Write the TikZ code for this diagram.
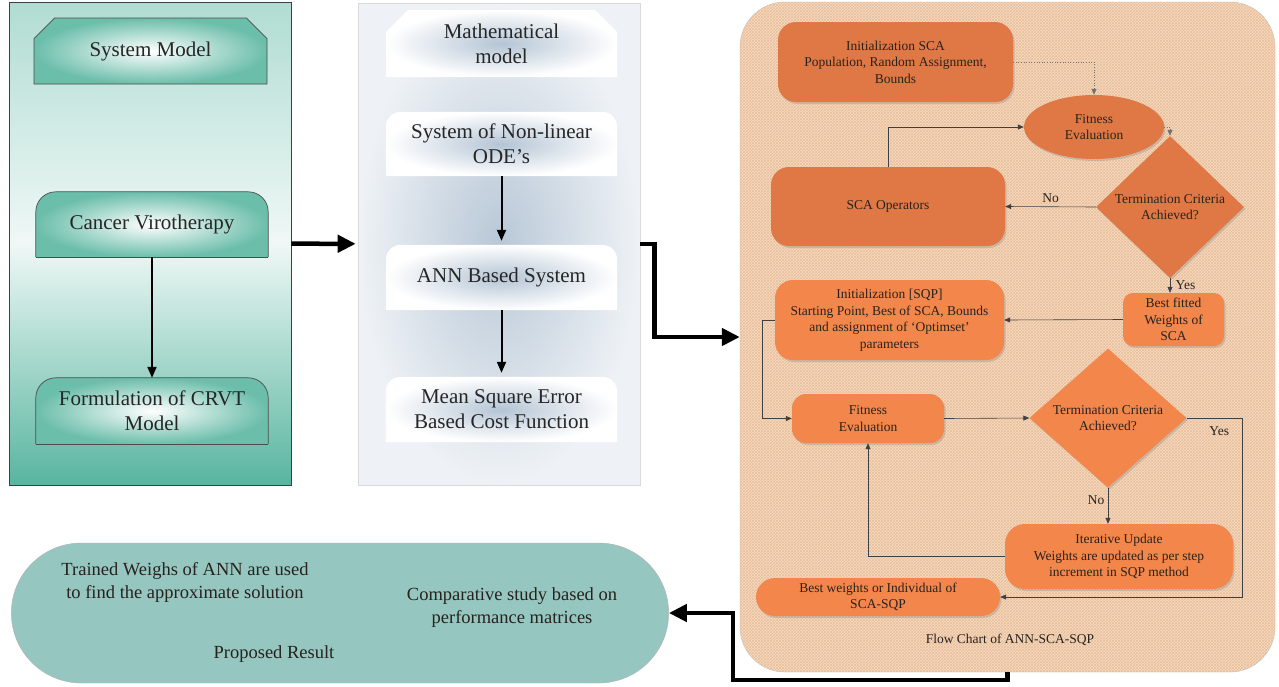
\documentclass[tikz,border=0pt]{standalone}
\usepackage{fontspec}
\setmainfont{Liberation Serif}
\usetikzlibrary{positioning,arrows.meta,shapes.geometric,shapes.misc,patterns,shadows}

\definecolor{tealbg}{RGB}{58,168,142}
\definecolor{slate}{RGB}{172,190,208}
\definecolor{peach}{RGB}{248,220,193}
\definecolor{hatch}{RGB}{232,190,156}
\definecolor{orgdark}{RGB}{224,120,69}
\definecolor{orglight}{RGB}{243,134,75}
\definecolor{resultbg}{RGB}{150,198,192}
\definecolor{ink}{RGB}{40,34,30}

\pgfdeclarelayer{panels}
\pgfdeclarelayer{boxes}
\pgfsetlayers{panels,boxes,main}

\begin{document}
\begin{tikzpicture}[x=1pt, y=-1pt,
    bigtext/.style={font=\fontsize{21}{25}\selectfont, text=black!85, align=center},
    flowtext/.style={font=\fontsize{13.5}{16.5}\selectfont, text=ink, align=center},
    restext/.style={font=\fontsize{18.5}{23}\selectfont, text=ink, align=center},
    tealpanel/.style={draw=black!75, line width=0.8pt, top color=tealbg!40, bottom color=tealbg!85, middle color=tealbg!8, minimum width=282pt, minimum height=483pt},
    slatepanel/.style={draw=black!15, line width=0.6pt, inner color=slate!85, outer color=slate!20, minimum width=282pt, minimum height=482pt},
    flowpanel/.style={rectangle, rounded corners=45pt, draw=black!25, fill=peach, postaction={pattern=crosshatch, pattern color=hatch}, minimum width=535pt, minimum height=670pt},
    respanel/.style={rounded rectangle, draw=black!30, fill=resultbg, minimum width=664pt, minimum height=140pt},
    boxsize/.style={inner sep=0pt, minimum width=232pt, minimum height=65pt},
    tealfill/.style={draw=black!70, line width=0.7pt, inner color=white, outer color=tealbg!75},
    slatefill/.style={inner color=slate!90, outer color=white},
    cutbox/.style={chamfered rectangle, chamfered rectangle corners={north west,north east}, chamfered rectangle xsep=11pt, chamfered rectangle ysep=11pt},
    softshadow/.style={drop shadow={opacity=0.3, shadow xshift=1.5pt, shadow yshift=-2pt}},
    flowbox/.style={flowtext, rectangle, rounded corners=18pt, fill=orgdark, inner sep=0pt, softshadow},
    lightbox/.style={flowbox, fill=orglight},
    fitoval/.style={flowtext, ellipse, fill=orgdark, inner sep=0pt, minimum width=140pt, minimum height=64pt, softshadow},
    decide/.style={flowtext, diamond, fill=orgdark, inner sep=0pt, softshadow},
    link/.style={draw=black!75, line width=0.6pt, -{Triangle[length=6pt,width=5pt]}},
    dotlink/.style={link, dotted, draw=black!55},
    thinarrow/.style={line width=2pt, -{Triangle[length=11pt,width=9pt]}},
    bigarrow/.style={line width=4.5pt, -{Triangle[length=18pt,width=17pt]}}]
\useasboundingbox (0,0) rectangle (1279,686);

% panels
\begin{pgfonlayer}{panels}
\node[tealpanel] (lpanel) at (150,243.5) {};
\node[slatepanel] (mpanel) at (499,244) {};
\node[flowpanel] (fpanel) at (1007.5,337) {};
\node[respanel] (pill) at (340,613) {};
\end{pgfonlayer}

% system model column
\node[bigtext, cutbox, tealfill, inner sep=0pt, minimum width=233pt, minimum height=66pt] (sysmodel) at (150.5,51) {System Model};
\node[bigtext, boxsize] (virother) at (152,224.5) {Cancer Virotherapy};
\node[bigtext, boxsize, minimum height=66pt] (crvt) at (152,411) {Formulation of CRVT\\Model};

% mathematical model column
\node[bigtext, cutbox, slatefill, inner sep=0pt, minimum width=231pt, minimum height=67pt] (mathmod) at (501.5,43.5) {Mathematical\\model};
\node[bigtext, boxsize, minimum width=231pt, minimum height=64pt] (odes) at (501.5,144) {System of Non-linear\\ODE’s};
\node[bigtext, boxsize, minimum width=231pt] (annsys) at (501.5,277.5) {ANN Based System};
\node[bigtext, boxsize, minimum width=231pt] (msecost) at (501.5,409.5) {Mean Square Error\\Based Cost Function};

\begin{pgfonlayer}{boxes}
\foreach \b in {virother,crvt} {
  \shade[tealfill, rounded corners=20pt] (\b.south west) -- (\b.north west) -- (\b.north east) -- (\b.south east);
  \draw[black!70, line width=0.7pt] (\b.south west) -- (\b.south east);
}
\foreach \b in {odes,annsys,msecost}
  \shade[slatefill, rounded corners=15pt] (\b.south west) -- (\b.north west) -- (\b.north east) -- (\b.south east);
\end{pgfonlayer}

\draw[thinarrow] (virother) -- (crvt);
\draw[thinarrow, shorten >=4pt] (odes) -- (annsys);
\draw[thinarrow, shorten >=4pt] (annsys) -- (msecost);

% flow chart
\node[flowbox, minimum width=235pt, minimum height=80pt] (initsca) at (895.5,62) {Initialization SCA\\Population, Random Assignment,\\Bounds};
\node[fitoval] (fit1) at (1094,127) {Fitness\\Evaluation};
\node[decide, minimum width=148pt, minimum height=142pt] (term1) at (1170,207) {Termination Criteria\\Achieved?};
\node[flowbox, minimum width=234pt, minimum height=79pt] (scaop) at (888,206.5) {SCA Operators};
\node[lightbox, rounded corners=10pt, minimum width=101pt, minimum height=53pt] (bestsca) at (1173.5,319.5) {Best fitted\\Weights of\\SCA};
\node[lightbox, minimum width=229pt, minimum height=80pt] (initsqp) at (889.5,320) {Initialization [SQP]\\Starting Point, Best of SCA, Bounds\\and assignment of ‘Optimset’\\parameters};
\node[lightbox, rounded corners=14pt, minimum width=152pt, minimum height=49pt] (fit2) at (868,418.5) {Fitness\\Evaluation};
\node[decide, fill=orglight, minimum width=157pt, minimum height=139pt] (term2) at (1108,418) {Termination Criteria\\Achieved?};
\node[lightbox, rounded corners=20pt, minimum width=228pt, minimum height=65pt] (iterupd) at (1119,556.5) {Iterative Update\\Weights are updated as per step\\increment in SQP method};
\node[lightbox, rounded corners=19pt, minimum width=244pt, minimum height=38pt] (bestwt) at (878,597) {Best weights or Individual of\\SCA-SQP};
\node[flowtext] (caption) at (1010,640) {Flow Chart of ANN-SCA-SQP};

\draw[dotlink] (initsca.east) -| (fit1.north);
\draw[dotlink] (fit1.east) -| (term1.north);
\draw[link] (term1.west) -- node[flowtext, above] {No} (scaop.east);
\draw[link] (scaop.north) |- (fit1.west);
\draw[link] (term1.south) -- node[flowtext, right, xshift=2pt] {Yes} (term1.south |- bestsca.north);
\draw[link] (bestsca.west) -- (initsqp.east);
\draw[link] (initsqp.west) -- ++(-13,0) |- (fit2.west);
\draw[link] (fit2.east) -- (term2.west);
\draw[link] (term2.east) -- ++(56,0) node[flowtext, below left, xshift=-10pt, yshift=-5pt] {Yes} |- (bestwt.east);
\draw[link] (term2.south) -- node[flowtext, left, pos=.35] {No} (term2.south |- iterupd.north);
\draw[link] (iterupd.west) -| (fit2.south);

% proposed result
\node[restext] (trained) at (185,582) {Trained Weighs of ANN are used\\to find the approximate solution};
\node[restext] (compare) at (512,608) {Comparative study based on\\performance matrices};
\node[restext] (proposed) at (274,654) {Proposed Result};

% main connectors
\coordinate (elbow) at (733,613);
\draw[bigarrow, shorten >=2pt] (lpanel) -- (mpanel);
\draw[bigarrow] (mpanel.east) -- ++(14,0) |- (fpanel.west);
\draw[bigarrow] (fpanel.south) -- ++(0,8) -| (elbow) -- (pill.east);
\end{tikzpicture}
\end{document}
